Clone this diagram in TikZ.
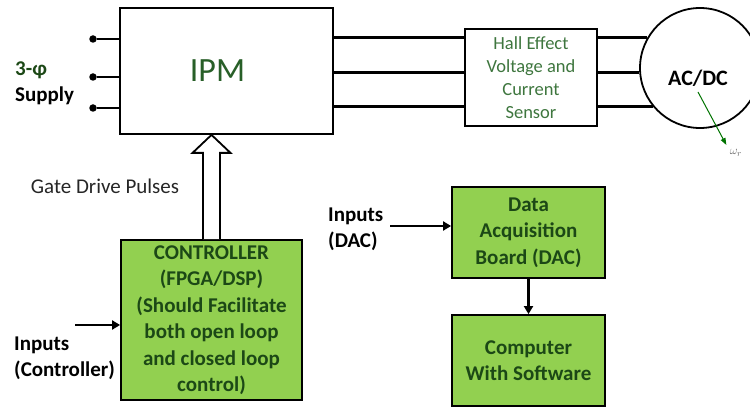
\documentclass[tikz,border=0pt]{standalone}
\usepackage{fontspec}
\setmainfont{Carlito}
\usetikzlibrary{calc,arrows.meta}
\definecolor{boxGreen}{HTML}{92D050}
\definecolor{txtGreen}{RGB}{28,72,22}
\definecolor{ipmGreen}{RGB}{40,95,40}
\definecolor{hallGreen}{RGB}{62,118,62}

\begin{document}
\begin{tikzpicture}[x=1pt,y=-1pt,
    box/.style={draw,line width=1.8pt,inner sep=0pt,align=center},
    gbox/.style={box,fill=boxGreen,text=txtGreen,font=\bfseries\fontsize{21}{26.5}\selectfont},
    wire/.style={line width=2.6pt},
    arr/.style={line width=2.4pt,-{Triangle[length=8pt,width=9pt]}},
    lbl/.style={align=left,inner sep=0pt,font=\bfseries\fontsize{21}{26}\selectfont},
    dot/.style={circle,fill,inner sep=0pt,minimum size=7.5pt}]
          \useasboundingbox (0,0) rectangle (750,411);
          %\draw[very thin,lightgray,step=50] (0,0) grid (750,411);
          \node[box,minimum width=213pt,minimum height=126pt,
            label={[text=ipmGreen,font=\fontsize{34}{40}\selectfont,xshift=-9pt]center:IPM}] (ipm) at (226.5,71) {};
          \node[box,minimum width=132pt,minimum height=97pt,text=hallGreen,
            font=\fontsize{18.5}{23}\selectfont] (hall) at (531,77.5) {Hall Effect\\Voltage and\\Current\\Sensor};
          \node[box,circle,minimum size=120pt,
            label={[font=\bfseries\fontsize{22}{26}\selectfont,yshift=-10pt,xshift=-2pt]center:AC/DC}] (motor) at (700,68) {};
          \foreach \a in {150,184,219} {
            \draw[wire] (ipm.east |- motor.\a) -- (hall.west |- motor.\a);
            \draw[wire] (hall.east |- motor.\a) -- (motor.\a);
          }
          % 3 phase supply terminals
          \foreach \y [count=\i] in {39,77,108} {
            \node[dot] (s\i) at (93,\y) {};
            \draw[wire] (s\i) -- (s\i -| ipm.west);
          }
          \node[lbl,anchor=west] (supply) at (15,83) {{\color{txtGreen}3-φ}\\Supply};
          \node[text=black!60,font=\fontsize{13}{13}\selectfont] (wr) at (736,153) {$\omega_r$};
          \draw[green!45!black,line width=1pt,-{Triangle[length=7pt,width=5pt]}] ($(motor.center)+(-2,24)$) -- ($(wr.north west)+(0,-1)$);

          \node[gbox,minimum width=181pt,minimum height=160pt] (ctrl) at (211.5,320)
            {CONTROLLER\\(FPGA/DSP)\\(Should Facilitate\\both open loop\\and closed loop\\control)};
          % hollow arrow for the gate pulses
          \coordinate (tip) at (ctrl.north |- ipm.south);
          \draw[line width=1.8pt,fill=white,line join=miter] ($(ctrl.north)+(-8.5,0)$) -- ($(tip)+(-8.5,18)$)
            -- ($(tip)+(-19,18)$) -- (tip) -- ($(tip)+(19,18)$) -- ($(tip)+(8.5,18)$) -- ($(ctrl.north)+(8.5,0)$);
          \node[font=\fontsize{21}{24}\selectfont,text=black!85] (gate) at (105,186) {Gate Drive Pulses};

          \node[lbl,anchor=west] (inctrl) at (14,358.5) {Inputs\\(Controller)};
          \coordinate (inC) at (75,325);
          \draw[arr] (inC) -- (inC -| ctrl.west);

          \node[gbox,minimum width=153pt,minimum height=91pt] (dac) at (528.5,232.5) {Data\\Acquisition\\Board (DAC)};
          \node[gbox,minimum width=153pt,minimum height=91pt] (pc) at (528.5,360.5) {Computer\\With Software};
          \draw[arr] (dac) -- (pc);
          \node[lbl,anchor=west] (indac) at (328,229) {Inputs\\(DAC)};
          \coordinate (inD) at (390,226);
          \draw[arr] (inD) -- (inD -| dac.west);
        \end{tikzpicture}
\end{document}
